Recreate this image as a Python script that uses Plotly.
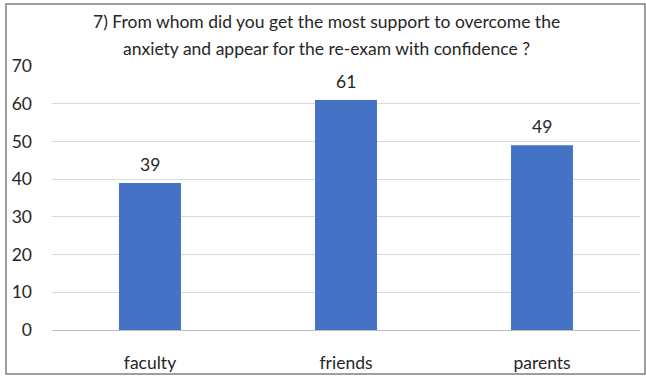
import plotly.graph_objects as go

categories = ["faculty", "friends", "parents"]
values = [39, 61, 49]
y_ticks = [0, 10, 20, 30, 40, 50, 60, 70]
title_lines = ["7) From whom did you get the most support to overcome the",
               "anxiety and appear for the re-exam with confidence ?"]

W, H = 646, 376
ml, mr, mt, mb = 52, 6, 66, 46
FONT = "Lato"

fig = go.Figure(go.Bar(
    x=categories, y=values,
    marker=dict(color="#4472C4", line=dict(width=0)),
    width=0.316,
))

for c, v in zip(categories, values):
    fig.add_annotation(x=c, y=v, text=str(v), showarrow=False,
                       yanchor="bottom", yshift=6,
                       font=dict(family=FONT, size=17.5, color="#262626"))

pw = W - ml - mr
ph = H - mt - mb
def px_x(p):
    return (p - ml) / pw
def px_y(p):
    return (H - mb - p) / ph

for line, yc in zip(title_lines, [21, 48]):
    fig.add_annotation(xref="paper", yref="paper", x=px_x(326), y=px_y(yc),
                       xanchor="center", yanchor="middle", showarrow=False,
                       text=line, font=dict(family=FONT, size=17.5, color="#262626"))

fig.add_shape(type="rect", xref="paper", yref="paper",
              x0=px_x(6), x1=px_x(645), y0=px_y(374), y1=px_y(4),
              line=dict(color="#7f7f7f", width=1.5), fillcolor="rgba(0,0,0,0)")

fig.update_layout(
    width=W, height=H,
    margin=dict(l=ml, r=mr, t=mt, b=mb, autoexpand=False),
    paper_bgcolor="white", plot_bgcolor="white",
    showlegend=False,
    xaxis=dict(showgrid=False, showline=True, linecolor="#bfbfbf", linewidth=1,
               ticks="", tickfont=dict(family=FONT, size=17.5, color="#262626"),
               ticklabelstandoff=17, automargin=False),
    yaxis=dict(range=[0, 70], tickvals=y_ticks, showgrid=True, gridcolor="#d9d9d9",
               gridwidth=1, zeroline=False, showline=False, ticks="",
               tickfont=dict(family=FONT, size=17.5, color="#262626"),
               ticklabelstandoff=19, automargin=False),
    font=dict(family=FONT),
)

fig.write_html("out.html")
